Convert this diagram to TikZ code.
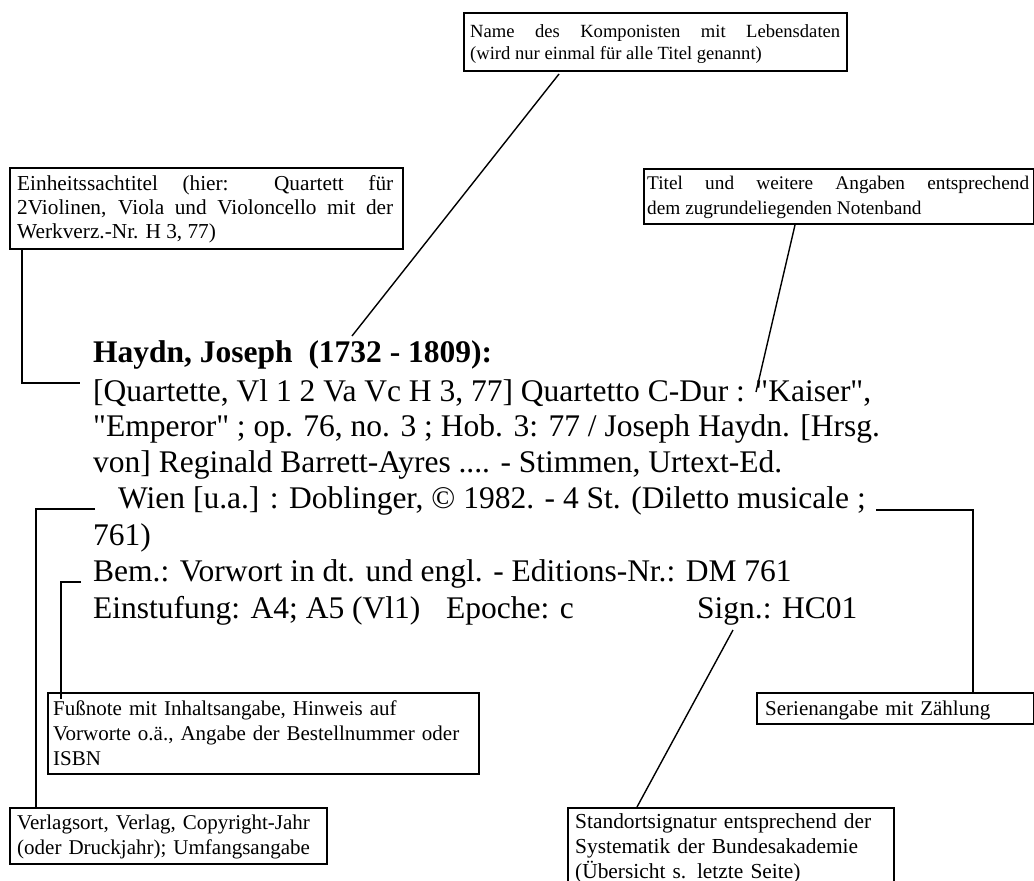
\documentclass[tikz,border=0pt]{standalone}
\usepackage{fontspec}
\setmainfont{Liberation Serif}[Ligatures=TeXOff]
\tikzset{
  frame/.style={draw, line width=1.9pt, anchor=north west, inner sep=0pt},
  note/.style={anchor=base west, inner sep=0pt, align=left},
  conn/.style={line width=1.4pt},
  maintext/.style={anchor=base west, inner sep=0pt, font=\fontsize{31.5}{36}\selectfont},
}
\begin{document}
\begin{tikzpicture}[x=1pt,y=-1pt]
\useasboundingbox (0,0) rectangle (1034,881);
\clip (0,0) rectangle (1034,881);

% annotation frames
\node[frame, minimum width=383pt, minimum height=58pt] (name) at (463,12) {};
\node[frame, minimum width=393pt, minimum height=81pt] (einheit) at (9,167) {};
\node[frame, minimum width=390pt, minimum height=55pt] (titel) at (643,168) {};
\node[frame, minimum width=431pt, minimum height=81pt] (fuss) at (47,692) {};
\node[frame, minimum width=317pt, minimum height=56pt] (verlag) at (9,807) {};
\node[frame, minimum width=326pt, minimum height=95pt] (standort) at (567,807) {};
\node[frame, minimum width=277pt, minimum height=31pt] (serie) at (756,692) {};

% annotation texts
\node[note, text width=370pt, align=justify, font=\fontsize{18.6}{22.5}\selectfont] (nameT) at (470,37)
  {Name des Komponisten mit Lebensdaten\linebreak (wird nur einmal für alle Titel genannt)};
\node[note, text width=376pt, align=justify, font=\fontsize{21.3}{24}\selectfont] (einheitT) at (17,190)
  {Einheitssachtitel (hier: Quartett für\linebreak 2Violinen, Viola und Violoncello mit der\linebreak Werkverz.-Nr. H 3, 77)};
\node[note, text width=382pt, align=justify, font=\fontsize{19.3}{25}\selectfont] (titelT) at (647,189)
  {Titel und weitere Angaben entsprechend\linebreak dem zugrundeliegenden Notenband};
\node[note, text width=420pt, font=\fontsize{21}{25}\selectfont] (fussT) at (53,715)
  {Fußnote mit Inhaltsangabe, Hinweis auf\\ Vorworte o.ä., Angabe der Bestellnummer oder\\ ISBN};
\node[note, text width=305pt, font=\fontsize{21}{25}\selectfont] (verlagT) at (17,829)
  {Verlagsort, Verlag, Copyright-Jahr\\ (oder Druckjahr); Umfangsangabe};
\node[note, text width=315pt, font=\fontsize{21.4}{25}\selectfont] (standortT) at (575,828)
  {Standortsignatur entsprechend der\\ Systematik der Bundesakademie\\ (Übersicht s. letzte Seite)};
\node[note, text width=262pt, font=\fontsize{21}{25}\selectfont] (serieT) at (765,715)
  {Serienangabe mit Zählung};

% main catalogue entry
\node[maintext, font=\fontsize{31.5}{36}\selectfont\bfseries] (l0) at (93,362) {Haydn, Joseph\ \ (1732 - 1809):};
\node[maintext] (l1) at (93,401) {[Quartette, Vl 1 2 Va Vc H 3, 77] Quartetto C-Dur : "Kaiser",};
\node[maintext] (l2) at (93,436) {"Emperor" ; op. 76, no. 3 ; Hob. 3: 77 / Joseph Haydn. [Hrsg.};
\node[maintext] (l3) at (93,472) {von] Reginald Barrett-Ayres .... - Stimmen, Urtext-Ed.};
\node[maintext] (l4) at (118,508) {Wien [u.a.] : Doblinger, © 1982. - 4 St. (Diletto musicale ;};
\node[maintext] (l5) at (93,545) {761)};
\node[maintext] (l6) at (93,581) {Bem.: Vorwort in dt. und engl. - Editions-Nr.: DM 761};
\node[maintext] (l7) at (93,618) {Einstufung: A4; A5 (Vl1)};
\node[maintext] (epoche) at (446,618) {Epoche: c};
\node[maintext] (sign) at (697,618) {Sign.: HC01};

% connector end points
\coordinate (nameA) at (559,74);
\coordinate (nameB) at (352,336);
\coordinate (einA) at (22,383);
\coordinate (einB) at (80,383);
\coordinate (titA) at (795,225);
\coordinate (titB) at (756,392);
\coordinate (wienA) at (95,509);
\coordinate (wienB) at (36,509);
\coordinate (bemA) at (81,582);
\coordinate (bemB) at (61,582);
\coordinate (bemC) at (61,699);
\coordinate (serA) at (876,510);
\coordinate (serB) at (973,510);
\coordinate (signA) at (733,630);
\coordinate (signB) at (637,807);

% connectors
\draw[conn] (nameA) -- (nameB);
\draw[conn] (einheit.south west -| einA) -- (einA) -- (einB);
\draw[conn] (titA) -- (titB);
\draw[conn] (wienA) -- (wienB) -- (wienB |- verlag.north);
\draw[conn] (bemA) -- (bemB) -- (bemC);
\draw[conn] (serA) -- (serB) -- (serB |- serie.north);
\draw[conn] (signA) -- (signB |- standort.north);
\end{tikzpicture}
\end{document}
